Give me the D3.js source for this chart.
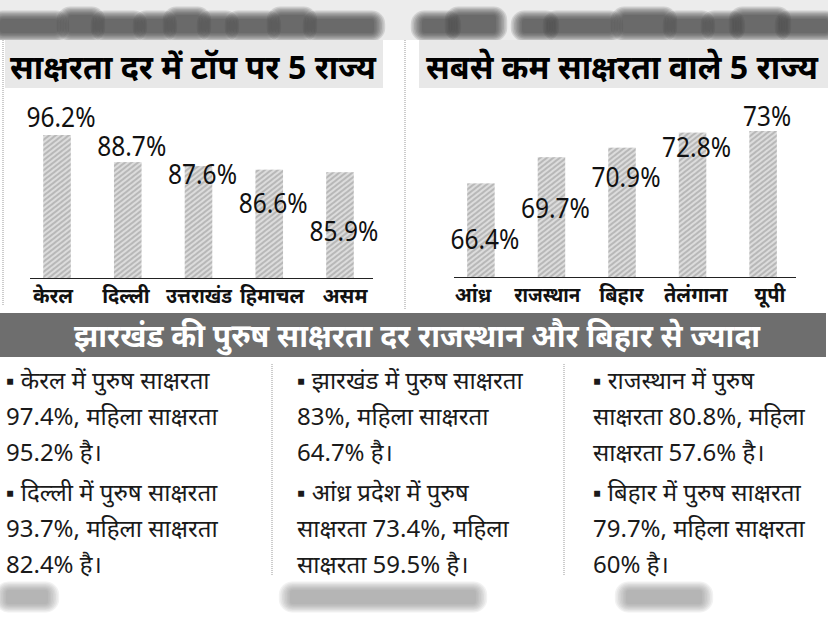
<!doctype html>
<html>
<head>
<meta charset="utf-8">
<title>साक्षरता दर</title>
<script src="https://d3js.org/d3.v7.min.js"></script>
<style type="text/css">
	body { margin: 0; background: #fff; }
	.title { font-size: 33px; font-weight: bold; font-family: "Noto Sans", sans-serif; fill: #000; }
	.val { font-size: 28px; font-family: "Noto Sans", sans-serif; fill: #111; }
	.cat { font-size: 20px; font-weight: bold; font-family: "Noto Sans", sans-serif; fill: #111; }
	.banner { font-size: 32px; font-weight: bold; font-family: "Noto Sans", sans-serif; fill: #fff; }
	.note { font-size: 24px; font-family: "Noto Sans", sans-serif; fill: #1a1a1a; }
</style>
</head>
<body>
<script>
	var w = 828;
	var h = 621;

	// शीर्ष 5 राज्य
	var topStates = ["केरल", "दिल्ली", "उत्तराखंड", "हिमाचल", "असम"];
	var topRates = [96.2, 88.7, 87.6, 86.6, 85.9];
	var topLabels = ["96.2%", "88.7%", "87.6%", "86.6%", "85.9%"];

	// सबसे कम 5 राज्य
	var lowStates = ["आंध्र", "राजस्थान", "बिहार", "तेलंगाना", "यूपी"];
	var lowRates = [66.4, 69.7, 70.9, 72.8, 73];
	var lowLabels = ["66.4%", "69.7%", "70.9%", "72.8%", "73%"];

	var titles = ["साक्षरता दर में टॉप पर 5 राज्य", "सबसे कम साक्षरता वाले 5 राज्य"];
	var bannerText = "झारखंड की पुरुष साक्षरता दर राजस्थान और बिहार से ज्यादा";

	var notes = [
		[["▪ केरल में पुरुष साक्षरता", "97.4%, महिला साक्षरता", "95.2% है।"],
		 ["▪ दिल्ली में पुरुष साक्षरता", "93.7%, महिला साक्षरता", "82.4% है।"]],
		[["▪ झारखंड में पुरुष साक्षरता", "83%, महिला साक्षरता", "64.7% है।"],
		 ["▪ आंध्र प्रदेश में पुरुष", "साक्षरता 73.4%, महिला", "साक्षरता 59.5% है।"]],
		[["▪ राजस्थान में पुरुष", "साक्षरता 80.8%, महिला", "साक्षरता 57.6% है।"],
		 ["▪ बिहार में पुरुष साक्षरता", "79.7%, महिला साक्षरता", "60% है।"]]
	];

	var svg = d3.select("body")
				.append("svg")
				.attr("width", w)
				.attr("height", h);

	var defs = svg.append("defs");
	var hatch = defs.append("pattern")
		.attr("id", "hatch")
		.attr("patternUnits", "userSpaceOnUse")
		.attr("width", 4)
		.attr("height", 4)
		.attr("patternTransform", "rotate(-38)");
	hatch.append("rect").attr("width", 4).attr("height", 4).attr("fill", "#dcdcdc");
	hatch.append("line").attr("x1", 0).attr("y1", 1).attr("x2", 4).attr("y2", 1)
		.attr("stroke", "#acacac").attr("stroke-width", 1.5);

	// soft, out-of-focus smudge made of stacked translucent rects
	function smudge(g, x, y, bw, bh, color, strength) {
		for (var k = 7; k >= 0; k--) {
			g.append("rect")
				.attr("x", x - k * 1.6)
				.attr("y", y - k * 1.2)
				.attr("width", bw + k * 3.2)
				.attr("height", bh + k * 2.4)
				.attr("rx", 3 + k * 1.5)
				.attr("fill", color)
				.attr("opacity", strength);
		}
	}

	// blurred strip at top (page text above, out of focus)
	svg.append("rect").attr("x", 0).attr("y", 0).attr("width", w).attr("height", 40).attr("fill", "#ececec");
	var topBlobs = [[0, 58], [68, 26], [102, 34], [144, 22], [174, 26], [208, 20], [236, 34], [278, 28], [314, 60],
		[422, 28], [456, 40], [522, 26], [554, 58], [622, 44], [674, 30], [712, 22], [740, 40], [786, 42]];
	var tg = svg.append("g");
	topBlobs.forEach(function(d, i) {
		var tall = i % 3 == 1;
		smudge(tg, d[0], tall ? 15 : 19, d[1], tall ? 18 : 14, "#3a3a3a", 0.15);
	});
	svg.append("rect").attr("x", 0).attr("y", 40).attr("width", w).attr("height", 50).attr("fill", "#fff");

	// blurred strip at bottom
	var botBlobs = [[6, 42], [290, 186], [626, 76]];
	var bg = svg.append("g");
	botBlobs.forEach(function(d) { smudge(bg, d[0], 590, d[1], 14, "#858585", 0.11); });
	svg.append("rect").attr("x", 0).attr("y", 578).attr("width", w).attr("height", 3).attr("fill", "#fff");

	// title boxes
	var boxes = [[5, 378], [419, 409]];
	svg.selectAll(".tbox").data(boxes).enter().append("rect")
		.attr("class", "tbox")
		.attr("x", function(d) { return d[0]; })
		.attr("y", 40)
		.attr("width", function(d) { return d[1]; })
		.attr("height", 48)
		.attr("fill", "#e8e8e8");
	svg.selectAll(".title").data(titles).enter().append("text")
		.attr("class", "title")
		.attr("x", function(d, i) { return i == 0 ? 193 : 622; })
		.attr("y", 79)
		.attr("text-anchor", "middle")
		.attr("textLength", function(d, i) { return i == 0 ? 366 : 392; })
		.attr("lengthAdjust", "spacingAndGlyphs")
		.text(function(d) { return d; });

	// dotted separators
	var dotted = [[3, 40, 306], [405, 40, 310], [272, 364, 576], [564, 364, 576]];
	svg.selectAll(".sep").data(dotted).enter().append("line")
		.attr("x1", function(d) { return d[0]; })
		.attr("x2", function(d) { return d[0]; })
		.attr("y1", function(d) { return d[1]; })
		.attr("y2", function(d) { return d[2]; })
		.attr("stroke", "#999")
		.attr("stroke-width", 1)
		.attr("stroke-dasharray", "1,1");

	function drawChart(states, rates, labels, x0, x1, yScale, labY, catRange) {
		var g = svg.append("g");
		var xScale = d3.scaleBand().domain(states).range([x0, x1]).paddingInner(0.61).paddingOuter(0.3);
		var catScale = d3.scalePoint().domain(states).range(catRange);
		var base = yScale.range()[0];

		g.selectAll("rect").data(rates).enter().append("rect")
			.attr("x", function(d, i) { return xScale(states[i]); })
			.attr("y", function(d) { return yScale(d); })
			.attr("width", xScale.bandwidth())
			.attr("height", function(d) { return base - yScale(d); })
			.attr("fill", "url(#hatch)");

		g.append("line")
			.attr("x1", x0 + 8).attr("x2", x1 - 2)
			.attr("y1", base + 0.5).attr("y2", base + 0.5)
			.attr("stroke", "#222").attr("stroke-width", 1.2);

		g.selectAll(".val").data(labels).enter().append("text")
			.attr("class", "val")
			.attr("x", function(d, i) { return xScale(states[i]) + xScale.bandwidth() / 2 + 4; })
			.attr("y", function(d, i) { return labY(i); })
			.attr("text-anchor", "middle")
			.attr("textLength", function(d) { return d.length == 3 ? 48 : 69; })
			.attr("lengthAdjust", "spacingAndGlyphs")
			.text(function(d) { return d; });

		g.selectAll(".cat").data(states).enter().append("text")
			.attr("class", "cat")
			.attr("x", function(d) { return catScale(d); })
			.attr("y", base + 25)
			.attr("text-anchor", "middle")
			.text(function(d) { return d; })
			.each(function() {
				// the print face is narrower; squeeze long names
				var len = this.getComputedTextLength();
				if (len > 64) {
					d3.select(this).attr("textLength", 64 + (len - 64) * 0.3).attr("lengthAdjust", "spacingAndGlyphs");
				}
			});
	}

	var yLeft = d3.scaleLinear().domain([56.6, 96.2]).range([278, 135]);
	var yRight = d3.scaleLinear().domain([54.6, 73]).range([277, 131]);

	drawChart(topStates, topRates, topLabels, 22, 375, yLeft, function(i) { return 127 + i * 28.6; }, [53, 345]);
	drawChart(lowStates, lowRates, lowLabels, 446, 798, yRight, function(i) { return 249 - i * 30.8; }, [473, 770]);

	// banner
	svg.append("rect").attr("x", 0).attr("y", 313).attr("width", 826).attr("height", 44).attr("fill", "#6e6e6e");
	svg.append("text").attr("class", "banner")
		.attr("x", 417).attr("y", 347)
		.attr("text-anchor", "middle")
		.attr("textLength", 686)
		.attr("lengthAdjust", "spacingAndGlyphs")
		.text(bannerText);

	// notes
	var colX = [6, 297, 593];
	notes.forEach(function(col, c) {
		col.forEach(function(para, p) {
			svg.selectAll(null).data(para).enter().append("text")
				.attr("class", "note")
				.attr("x", colX[c])
				.attr("y", function(d, i) { return 389 + p * 112 + i * 36; })
				.text(function(d) { return d; });
		});
	});
</script>
</body>
</html>
